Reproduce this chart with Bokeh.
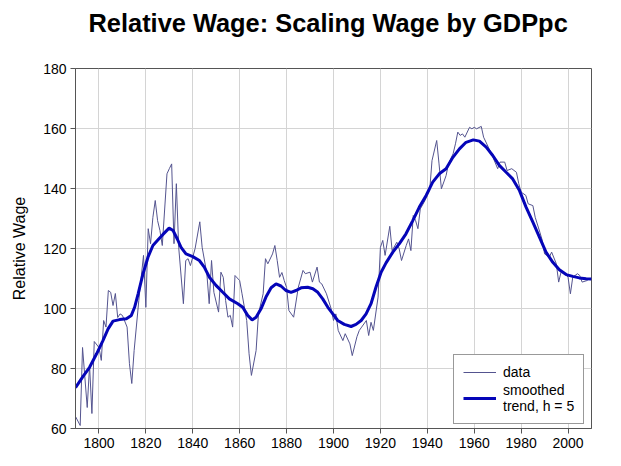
from bokeh.plotting import figure
from bokeh.models import Title, Legend, LegendItem, FixedTicker
from bokeh.embed import file_html
from bokeh.resources import INLINE

# Relative wage series (annual observations)
data_years = [1790, 1791, 1792, 1793, 1795, 1796, 1797, 1798, 1800, 1801, 1802, 1803,
              1804, 1805, 1806, 1807, 1808, 1809, 1810, 1812, 1813, 1814, 1815, 1817,
              1818, 1819, 1820, 1821, 1822, 1823, 1824, 1825, 1826, 1827, 1829, 1830,
              1831, 1832, 1833, 1834, 1836, 1837, 1838, 1839, 1841, 1843, 1844, 1846,
              1847, 1848, 1849, 1851, 1852, 1853, 1854, 1855, 1856, 1857, 1858, 1860,
              1861, 1863, 1864, 1865, 1867, 1868, 1870, 1871, 1872, 1874, 1875, 1876,
              1877, 1878, 1879, 1880, 1881, 1883, 1885, 1887, 1888, 1890, 1891, 1893,
              1894, 1895, 1897, 1899, 1900, 1901, 1902, 1904, 1905, 1907, 1908, 1910,
              1911, 1912, 1914, 1915, 1916, 1917, 1919, 1920, 1921, 1922, 1924, 1925,
              1927, 1928, 1929, 1931, 1932, 1933, 1934, 1935, 1936, 1937, 1939, 1940,
              1941, 1942, 1944, 1945, 1946, 1948, 1949, 1951, 1952, 1953, 1954, 1955,
              1956, 1958, 1959, 1960, 1961, 1963, 1964, 1966, 1967, 1968, 1970, 1971,
              1973, 1974, 1976, 1978, 1979, 1980, 1982, 1983, 1985, 1986, 1988, 1989,
              1990, 1992, 1993, 1995, 1996, 1997, 1999, 2000, 2001, 2002, 2004, 2005,
              2006, 2008, 2009, 2010]
data_values = [64.0, 62.5, 61.0, 87.0, 67.0, 81.0, 65.0, 89.0, 87.0, 82.7, 96.0, 93.8,
               106.0, 105.4, 101.0, 105.0, 97.0, 98.2, 97.7, 93.8, 81.6, 75.0, 86.0, 102.7,
               110.4, 117.7, 100.4, 126.6, 121.6, 130.4, 136.0, 129.3, 126.0, 121.0, 144.9, 146.6,
               148.2, 121.6, 141.6, 120.4, 101.6, 116.0, 116.6, 114.3, 120.0, 128.9, 120.4, 111.6,
               101.6, 116.0, 105.4, 98.8, 112.1, 110.4, 102.7, 97.1, 97.7, 93.8, 111.0, 109.3,
               104.9, 96.0, 84.9, 77.7, 86.0, 98.2, 104.9, 116.6, 114.9, 118.2, 121.0, 116.0,
               110.4, 112.0, 109.3, 107.0, 99.3, 97.1, 107.1, 112.7, 111.6, 112.1, 108.8, 113.8,
               108.8, 108.2, 104.9, 99.9, 96.0, 98.2, 92.7, 89.3, 91.6, 88.2, 84.3, 90.6,
               92.7, 93.8, 96.0, 91.0, 95.4, 92.7, 103.8, 120.4, 122.7, 117.7, 127.4, 119.3,
               122.1, 119.9, 116.0, 121.0, 123.2, 119.3, 131.0, 129.3, 126.6, 133.2, 136.0, 137.7,
               139.3, 149.3, 156.0, 148.2, 139.9, 144.3, 148.2, 151.6, 154.9, 158.8, 157.7, 158.2,
               157.1, 160.4, 159.9, 160.4, 159.9, 160.7, 157.1, 153.8, 152.1, 150.4, 146.6, 148.8,
               148.8, 146.0, 146.6, 145.4, 141.6, 138.8, 137.7, 134.9, 134.3, 130.4, 125.4, 122.7,
               118.2, 117.1, 118.8, 114.9, 108.8, 112.1, 111.6, 110.4, 104.9, 110.4, 111.6, 111.0,
               108.8, 109.3, 109.9, 110.0]

# Smoothed trend (h = 5)
trend_years = [1790, 1793, 1796, 1799, 1801.7, 1803.9, 1806, 1808.8, 1811.7, 1813.8,
               1815.2, 1816.7, 1818.8, 1820.9, 1823, 1825.2, 1827.3, 1829.9, 1831.6, 1833.5,
               1835, 1837.1, 1840, 1842.8, 1844.9, 1847.1, 1849.9, 1852.8, 1855.6, 1859.2,
               1861.3, 1863.4, 1865.3, 1867, 1869.1, 1871.2, 1873.4, 1875.5, 1877.6, 1879.7,
               1881.9, 1884, 1886.2, 1889, 1891.2, 1893.3, 1895.4, 1897.6, 1899.7, 1901.8,
               1904.6, 1907.5, 1909.6, 1911.8, 1913.9, 1916, 1918.1, 1920.3, 1922.4, 1925.3,
               1928.1, 1930.9, 1933.8, 1936.6, 1939.5, 1942.3, 1945.1, 1948, 1950.9, 1953.7,
               1956.5, 1959.6, 1962.2, 1965.1, 1967.9, 1970.7, 1973.6, 1976.4, 1979.3, 1982.1,
               1985, 1987.8, 1990.6, 1993.5, 1996.3, 1999.2, 2002, 2004.8, 2007.7, 2010]
trend_values = [73.6, 77.1, 80.4, 84.9, 89.3, 93.2, 95.8, 96.3, 96.6, 97.7,
                100.4, 104.9, 111.6, 117.1, 121.0, 122.9, 124.7, 126.8, 126.0, 123.0,
                120.4, 118.2, 117.3, 116.0, 113.8, 110.4, 107.7, 105.4, 103.2, 101.6,
                100.4, 97.7, 96.2, 97.1, 99.9, 103.8, 106.9, 108.2, 107.5, 106.0,
                105.4, 106.0, 106.9, 107.1, 106.6, 105.4, 103.2, 100.4, 98.2, 96.0,
                94.7, 94.0, 94.7, 96.0, 98.2, 101.6, 107.1, 112.1, 115.2, 118.8,
                121.6, 124.9, 129.3, 133.8, 137.7, 142.1, 144.9, 146.6, 150.4, 153.2,
                155.4, 156.2, 155.8, 153.8, 151.0, 147.7, 145.4, 143.2, 139.3, 133.8,
                128.8, 123.8, 118.8, 115.4, 112.9, 111.3, 110.7, 110.2, 109.9, 109.8]

x_ticks = [1800, 1820, 1840, 1860, 1880, 1900, 1920, 1940, 1960, 1980, 2000]
y_ticks = [60, 80, 100, 120, 140, 160, 180]

FONT = "Liberation Sans"

p = figure(width=621, height=466, x_range=(1790, 2010), y_range=(60, 180),
           output_backend="svg", toolbar_location=None, title=None,
           min_border_left=75, min_border_right=30, min_border_top=68, min_border_bottom=38)
p.background_fill_color = "white"
p.border_fill_color = "white"
p.outline_line_color = "#555555"
p.outline_line_width = 1

r_data = p.line(data_years, data_values, line_color="#54548f", line_width=1)
r_trend = p.line(trend_years, trend_values, line_color="#0505b8", line_width=3)

for ax in (p.xaxis[0], p.yaxis[0]):
    ax.axis_line_color = "#555555"
    ax.major_tick_line_color = "#555555"
    ax.major_tick_out = 5
    ax.major_tick_in = 0
    ax.minor_tick_line_color = None
    ax.major_label_text_font = FONT
    ax.major_label_text_font_size = "14px"
    ax.major_label_text_color = "black"
    ax.major_label_standoff = 4

p.xaxis[0].ticker = FixedTicker(ticks=x_ticks)
p.yaxis[0].ticker = FixedTicker(ticks=y_ticks)
p.yaxis[0].axis_label = "Relative Wage"
p.yaxis[0].axis_label_text_font = FONT
p.yaxis[0].axis_label_text_font_size = "16px"
p.yaxis[0].axis_label_text_font_style = "normal"
p.yaxis[0].axis_label_text_color = "black"
p.yaxis[0].axis_label_standoff = 12

p.xgrid.ticker = FixedTicker(ticks=x_ticks)
p.ygrid.ticker = FixedTicker(ticks=y_ticks)
p.grid.grid_line_color = "#d4d4d4"
p.grid.grid_line_width = 1

# Empty spacer panel between the frame and the chart title
spacer = Title(text=" ", text_font_size="22px", standoff=0)
p.add_layout(spacer, "above")

title = Title(text="Relative Wage: Scaling Wage by GDPpc", align="left", offset=13,
              text_font=FONT, text_font_size="25.4px",
              text_font_style="bold", text_color="black")
p.add_layout(title, "above")

legend = Legend(items=[LegendItem(label="data", renderers=[r_data]),
                       LegendItem(label="smoothed\ntrend, h = 5", renderers=[r_trend])],
                location=(378, 4), orientation="vertical")
legend.border_line_color = "#333333"
legend.border_line_width = 1
legend.background_fill_color = "white"
legend.background_fill_alpha = 1
legend.label_text_font = FONT
legend.label_text_font_size = "14px"
legend.label_text_color = "black"
legend.glyph_width = 33
legend.label_standoff = 7
legend.padding = 9
legend.spacing = 2
legend.margin = 0
legend.label_height = 16
legend.glyph_height = 16
p.add_layout(legend)

open("out.html", "w").write(file_html(p, INLINE))
